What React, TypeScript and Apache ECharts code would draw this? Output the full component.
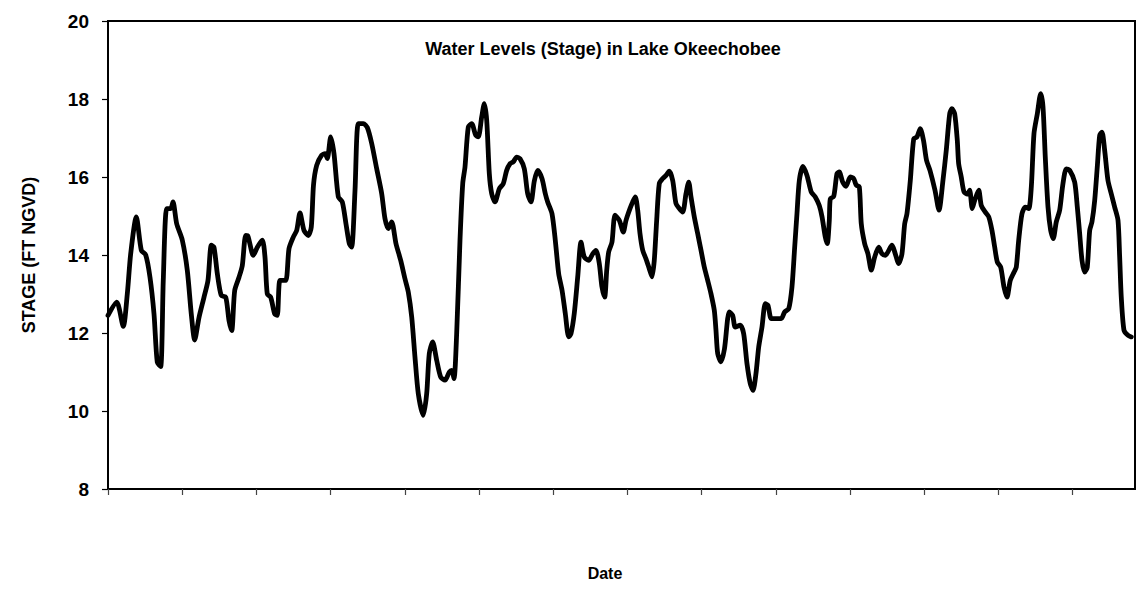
import React, { useEffect, useRef } from "react";
import * as echarts from "echarts";

// Observation time (months since start of record) and lake stage (ft NGVD)
const months: number[] = [
  0, 1.41, 2.47, 3.12, 3.67, 4.58, 5.39, 6.10, 6.79, 7.44, 7.97, 8.52, 8.94, 9.49, 10.14, 10.51, 11.11, 12.02, 12.83, 13.47,
  14.02, 14.72, 15.53, 16.17, 16.71, 17.14, 17.68, 18.32, 19.04, 19.57, 20.01, 20.49, 21.19, 21.72, 22.27, 22.64, 23.50, 24.15, 24.96, 25.39,
  25.76, 26.31, 26.96, 27.38, 27.82, 28.74, 29.27, 29.97, 30.52, 31.05, 31.70, 32.39, 32.88, 33.24, 33.75, 34.56, 35.10, 35.47, 36.02, 36.55,
  37.25, 37.89, 38.49, 39.03, 39.41, 39.95, 40.48, 41.29, 41.94, 42.65, 43.46, 44.27, 44.80, 45.33, 45.88, 46.58, 47.34, 48.03, 48.57, 49.12,
  49.65, 50.19, 50.99, 51.54, 51.96, 52.51, 53.16, 53.81, 54.50, 55.20, 55.59, 55.96, 56.39, 56.93, 57.37, 57.74, 58.27, 58.82, 59.47, 59.89,
  60.44, 60.86, 61.25, 61.67, 62.06, 62.59, 63.29, 63.93, 64.48, 65.02, 65.55, 66.10, 66.63, 67.33, 67.88, 68.41, 68.95, 69.50, 70.19, 70.73,
  71.11, 71.81, 72.34, 72.89, 73.43, 73.96, 74.51, 74.88, 75.41, 75.97, 76.50, 77.03, 77.74, 78.39, 78.92, 79.46, 79.89, 80.33, 80.66, 80.98,
  81.51, 82.00, 82.69, 83.34, 83.78, 84.42, 84.86, 85.28, 85.67, 86.04, 86.48, 87.01, 87.54, 87.98, 88.35, 88.74, 89.16, 89.71, 90.25, 90.78,
  91.33, 91.86, 92.40, 92.95, 93.48, 93.92, 94.29, 94.82, 95.37, 95.91, 96.44, 96.99, 97.52, 98.06, 98.33, 98.61, 99.14, 99.71, 100.48, 101.03,
  101.45, 102.26, 102.81, 103.35, 103.88, 104.32, 104.80, 105.24, 105.77, 106.31, 106.74, 107.28, 108.20, 108.89, 109.44, 110.09, 110.62, 111.06, 111.43, 111.81,
  112.40, 113.05, 113.75, 114.39, 115.04, 115.48, 116.01, 116.33, 116.66, 116.82, 117.37, 117.90, 118.27, 118.82, 119.36, 120.05, 120.60, 121.02, 121.51, 121.83,
  122.38, 122.91, 123.45, 124.00, 124.65, 125.18, 125.71, 126.80, 127.33, 127.88, 128.41, 128.85, 129.22, 129.76, 130.31, 130.84, 131.37, 131.89, 132.38, 132.94,
  133.75, 134.40, 135.04, 135.58, 136.13, 136.50, 136.94, 137.36, 137.58, 138.00, 138.44, 138.98, 139.36, 139.78, 140.17, 140.82, 141.24, 141.89, 142.44, 142.97,
  143.41, 143.83, 144.38, 144.91, 145.40, 145.93, 146.53, 146.90, 147.29, 147.82, 148.36, 148.91, 149.33, 149.76, 150.30, 150.85, 151.22, 151.59, 152.03, 152.46,
  152.88, 153.37, 153.92, 154.45, 154.99, 155.54, 156.34, 156.77, 157.15, 157.53, 157.96, 158.38, 158.77, 159.14, 159.58, 160.00, 160.39, 160.76, 161.19, 161.73,
  162.26, 162.81, 163.35, 163.62, 163.88, 164.32, 164.96, 165.50,
];

const stage: number[] = [
  12.45, 12.79, 12.17, 13.0, 14.03, 14.98, 14.12, 14.0, 13.43, 12.49, 11.25, 11.14, 13.35, 15.19, 15.19, 15.36, 14.8, 14.38, 13.6, 12.49,
  11.82, 12.4, 12.92, 13.35, 14.25, 14.2, 13.52, 12.96, 12.92, 12.32, 12.06, 13.09, 13.43, 13.73, 14.5, 14.48, 13.99, 14.2, 14.38, 13.95,
  13.0, 12.92, 12.49, 12.45, 13.35, 13.35, 14.16, 14.46, 14.63, 15.08, 14.63, 14.5, 14.72, 15.8, 16.3, 16.56, 16.6, 16.47, 17.03, 16.6,
  15.49, 15.36, 14.8, 14.29, 14.2, 15.66, 17.37, 17.37, 17.27, 16.86, 16.21, 15.57, 14.93, 14.68, 14.85, 14.29, 13.86, 13.39, 13.05, 12.41,
  11.38, 10.44, 9.89, 10.44, 11.47, 11.77, 11.3, 10.87, 10.79, 11.0, 11.04, 10.83, 11.98, 14.38, 15.83, 16.26, 17.28, 17.37, 17.07, 17.03,
  17.54, 17.88, 17.45, 16.09, 15.57, 15.36, 15.7, 15.83, 16.17, 16.34, 16.39, 16.51, 16.47, 16.21, 15.57, 15.36, 15.9, 16.17, 15.96, 15.57,
  15.36, 15.06, 14.38, 13.52, 13.1, 12.5, 11.9, 11.98, 12.5, 13.44, 14.33, 13.95, 13.86, 14.03, 14.12, 13.78, 13.18, 12.92, 13.61, 14.08,
  14.33, 15.02, 14.89, 14.59, 14.89, 15.19, 15.36, 15.49, 15.15, 14.55, 14.12, 13.9, 13.65, 13.44, 13.86, 14.89, 15.83, 15.96, 16.04, 16.15,
  15.91, 15.32, 15.19, 15.1, 15.57, 15.87, 15.49, 14.98, 14.55, 14.12, 13.69, 13.35, 13.01, 12.58, 12.07, 11.47, 11.26, 11.6, 12.54, 12.45,
  12.15, 12.2, 11.98, 11.21, 10.7, 10.53, 10.96, 11.64, 12.15, 12.75, 12.71, 12.37, 12.37, 12.37, 12.54, 12.62, 13.18, 14.2, 15.06, 15.91,
  16.27, 16.04, 15.61, 15.49, 15.27, 14.98, 14.46, 14.29, 14.89, 15.44, 15.5, 16.09, 16.13, 15.87, 15.76, 16.0, 15.96, 15.79, 15.75, 14.8,
  14.29, 14.03, 13.61, 13.95, 14.2, 14.03, 13.99, 14.25, 14.03, 13.78, 14.03, 14.8, 15.06, 15.91, 16.98, 17.03, 17.24, 16.94, 16.43, 16.17,
  15.66, 15.15, 15.91, 16.69, 17.62, 17.75, 17.62, 16.94, 16.34, 16.0, 15.62, 15.56, 15.66, 15.19, 15.4, 15.66, 15.27, 15.1, 14.98, 14.63,
  14.2, 13.82, 13.69, 13.18, 12.92, 13.35, 13.56, 13.69, 14.38, 15.06, 15.23, 15.19, 15.74, 17.11, 17.62, 18.14, 17.8, 16.51, 15.23, 14.63,
  14.42, 14.85, 15.15, 15.83, 16.21, 16.17, 15.87, 15.23, 14.55, 13.86, 13.56, 13.69, 14.63, 14.85, 15.4, 16.26, 17.07, 17.15, 16.69, 15.91,
  15.57, 15.23, 14.89, 13.95, 12.92, 12.07, 11.94, 11.9,
];

// Yearly tick marks on the date axis (months since start)
const yearTicks: number[] = [0, 12, 24, 36, 48, 60, 72, 84, 96, 108, 120, 132, 144, 156];
const axisEndMonth = 166.1;

const TITLE = "Water Levels (Stage) in Lake Okeechobee";
const Y_NAME = "STAGE (FT NGVD)";
const X_NAME = "Date";

const FONT = "'Liberation Sans', Arial, sans-serif";

export default function App() {
  const ref = useRef<HTMLDivElement>(null);

  useEffect(() => {
    if (!ref.current) return;
    const chart = echarts.init(ref.current, undefined, { renderer: "svg" });
    const data = months.map((m, i) => [m, stage[i]]);
    chart.setOption({
      animation: false,
      backgroundColor: "#fff",
      grid: {
        left: 108,
        right: 2,
        top: 21,
        bottom: 118,
        show: true,
        borderColor: "#000",
        borderWidth: 2,
        backgroundColor: "transparent",
      },
      xAxis: {
        type: "value",
        min: 0,
        max: axisEndMonth,
        axisLine: { show: true, lineStyle: { color: "#000", width: 2 } },
        axisTick: {
          show: true,
          length: 6,
          customValues: yearTicks,
          lineStyle: { color: "#444", width: 1.2 },
        },
        axisLabel: { show: false },
        splitLine: { show: false },
      },
      yAxis: {
        type: "value",
        min: 8,
        max: 20,
        interval: 2,
        axisLine: { show: true, lineStyle: { color: "#000", width: 2 } },
        axisTick: { show: true, length: 6, lineStyle: { color: "#000", width: 1.2 } },
        axisLabel: {
          color: "#000",
          fontFamily: FONT,
          fontWeight: "bold",
          fontSize: 19,
          margin: 19,
        },
        splitLine: { show: false },
      },
      series: [
        {
          type: "line",
          data,
          showSymbol: false,
          smooth: 0.25,
          lineStyle: { color: "#000", width: 4.8, cap: "round", join: "round" },
        },
      ],
      graphic: [
        {
          type: "text",
          x: 603,
          y: 49,
          style: {
            text: TITLE,
            fill: "#000",
            font: `bold 18px ${FONT}`,
            textAlign: "center",
            textVerticalAlign: "middle",
          },
        },
        {
          type: "text",
          x: 605,
          y: 573,
          style: {
            text: X_NAME,
            fill: "#000",
            font: `bold 16px ${FONT}`,
            textAlign: "center",
            textVerticalAlign: "middle",
          },
        },
        {
          type: "text",
          x: 29,
          y: 255,
          rotation: Math.PI / 2,
          style: {
            text: Y_NAME,
            fill: "#000",
            font: `bold 18px ${FONT}`,
            textAlign: "center",
            textVerticalAlign: "middle",
          },
        },
      ],
    });
    return () => chart.dispose();
  }, []);

  return (
    <div
      ref={ref}
      style={{ position: "fixed", left: 0, top: 0, width: 1137, height: 607, background: "#fff" }}
    />
  );
}
